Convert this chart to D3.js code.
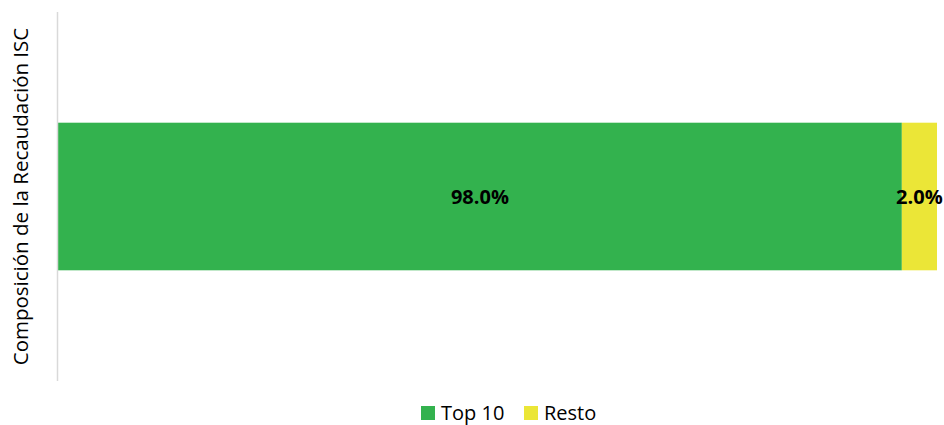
<!DOCTYPE html>
<html>
<head>
<meta charset="utf-8">
<script src="https://cdn.jsdelivr.net/npm/d3@7"></script>
<style>
body { margin: 0; background: #fff; }
svg { display: block; font-family: "Open Sans", "Noto Sans", sans-serif; }
</style>
</head>
<body>
<script>
// data
var categories = ["Composición de la Recaudación ISC"];
var seriesNames = ["Top 10", "Resto"];
var seriesColors = ["#33b24e", "#ebe637"];
// bar lengths as they appear in the picture (share of the axis)
var seriesValues = [0.96, 0.04];
var seriesLabels = ["98.0%", "2.0%"];

var w = 944, h = 425;
var margin = {left: 58, right: 7, top: 12, bottom: 44};

var svg = d3.select("body").append("svg")
    .attr("width", w)
    .attr("height", h);

var x = d3.scaleLinear()
    .domain([0, 1])
    .range([margin.left, w - margin.right]);

var y = d3.scaleBand()
    .domain(categories)
    .range([margin.top, h - margin.bottom])
    .paddingInner(0.6)
    .paddingOuter(0.3);

// stack
var stacked = [];
var acc = 0;
seriesValues.forEach(function(v, i){
    stacked.push({name: seriesNames[i], x0: acc, x1: acc + v, color: seriesColors[i], label: seriesLabels[i]});
    acc += v;
});

svg.selectAll("rect.bar")
    .data(stacked)
    .enter()
    .append("rect")
    .attr("class", "bar")
    .attr("x", function(d){ return x(d.x0); })
    .attr("width", function(d){ return x(d.x1) - x(d.x0); })
    .attr("y", y(categories[0]))
    .attr("height", y.bandwidth())
    .style("fill", function(d){ return d.color; });

svg.selectAll("text.lbl")
    .data(stacked)
    .enter()
    .append("text")
    .attr("class", "lbl")
    .attr("x", function(d){ return (x(d.x0) + x(d.x1)) / 2; })
    .attr("y", y(categories[0]) + y.bandwidth() / 2)
    .attr("dy", "0.35em")
    .attr("text-anchor", "middle")
    .style("font-weight", "bold")
    .style("font-size", "20px")
    .style("fill", "#000")
    .text(function(d){ return d.label; });

// vertical axis line
svg.append("line")
    .attr("x1", margin.left - 0.5).attr("x2", margin.left - 0.5)
    .attr("y1", margin.top).attr("y2", h - margin.bottom)
    .style("stroke", "#d9d9d9")
    .style("stroke-width", 1.5);

// category title (rotated)
svg.append("text")
    .attr("transform", "translate(28," + (y(categories[0]) + y.bandwidth() / 2) + ") rotate(-90)")
    .attr("text-anchor", "middle")
    .style("font-size", "20.5px")
    .style("fill", "#000")
    .text(categories[0]);

// legend
var legend = svg.append("g").attr("transform", "translate(421,406)");
var lx = [0, 103];
seriesNames.forEach(function(n, i){
    var g = legend.append("g").attr("transform", "translate(" + lx[i] + ",0)");
    g.append("rect").attr("width", 14).attr("height", 14).style("fill", seriesColors[i]);
    g.append("text").attr("x", 20).attr("y", 7).attr("dy", "0.36em")
        .style("font-size", "20px").style("fill", "#000").text(n);
});
</script>
</body>
</html>
